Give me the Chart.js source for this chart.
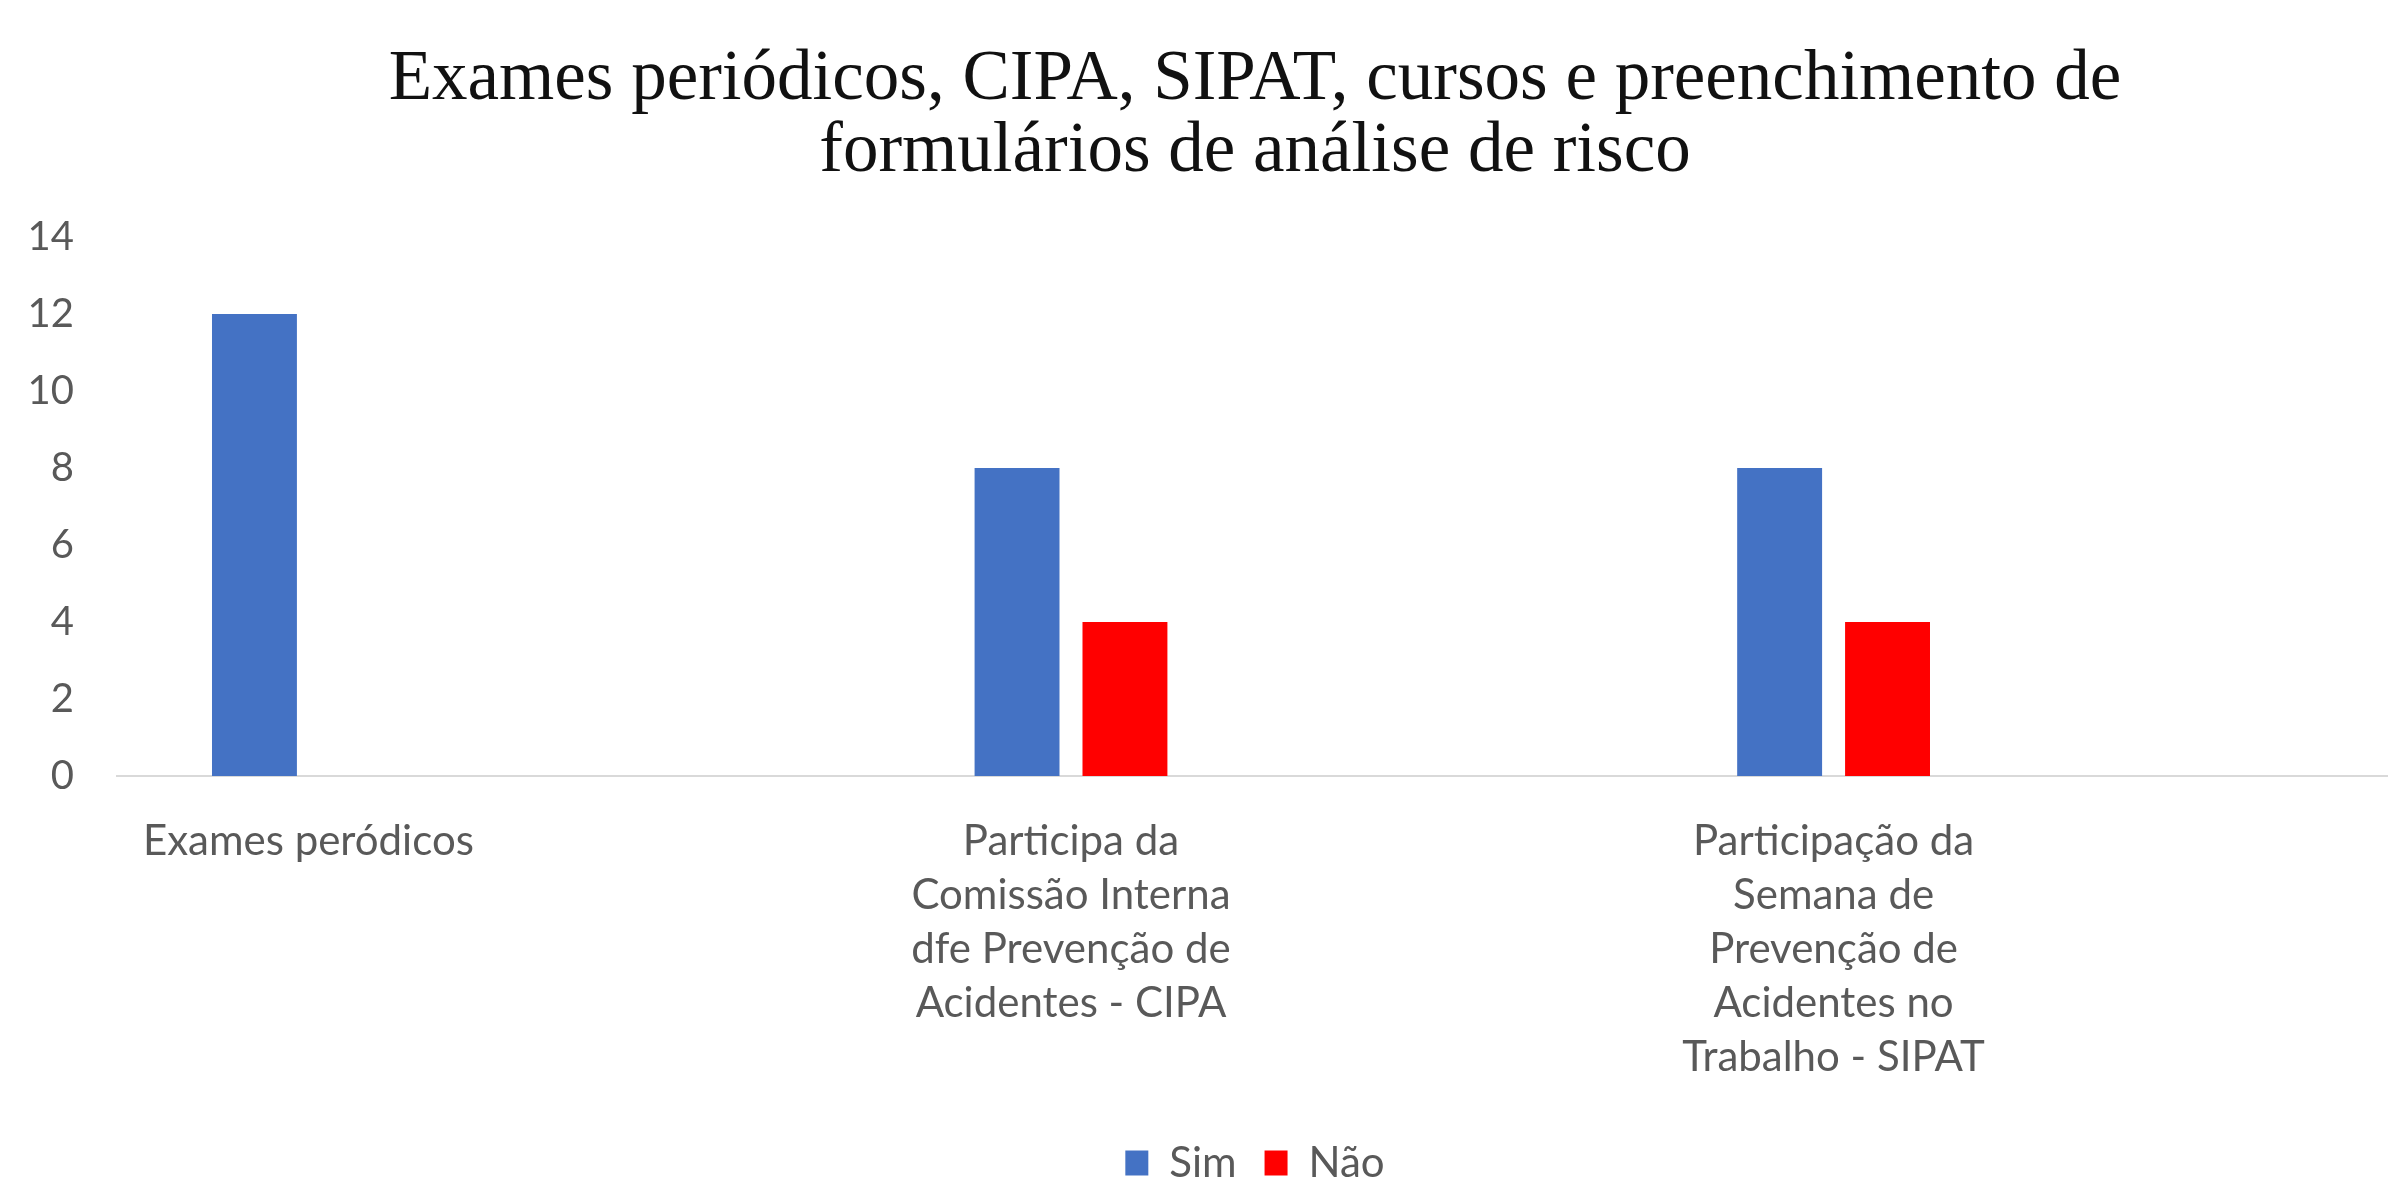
<!DOCTYPE html>
<html>
<head>
<meta charset="utf-8">
<script src="https://cdn.jsdelivr.net/npm/chart.js@4.4.1/dist/chart.umd.min.js"></script>
<style>
    body { margin: 0; background: #fff; overflow: hidden; }
</style>
</head>
<body>
<canvas id="grafico" width="2510" height="1180"></canvas>
<script>
// Dados
var categorias = [
    ["Exames peródicos"],
    ["Participa da", "Comissão Interna", "dfe Prevenção de", "Acidentes - CIPA"],
    ["Participação da", "Semana de", "Prevenção de", "Acidentes no", "Trabalho - SIPAT"]
];
var valoresSim = [12, 8, 8];
var valoresNao = [0, 4, 4];
var ticksY = [0, 2, 4, 6, 8, 10, 12, 14];

var titulo = ["Exames periódicos, CIPA, SIPAT, cursos e preenchimento de",
              "formulários de análise de risco"];

var corTexto = "#595959";
var fonteEixo = "Lato, 'Open Sans', sans-serif";

// barras em eixo linear: posicao = indice da categoria
function pontos(valores) {
    return valores.map((v, i) => ({ x: i, y: v }));
}

var ctx = document.getElementById("grafico").getContext("2d");
var grafico = new Chart(ctx, {
    type: 'bar',
    data: {
        datasets: [{
            label: 'Sim',
            data: pontos(valoresSim),
            backgroundColor: '#4472C4',
            borderWidth: 0,
            categoryPercentage: 0.283,
            barPercentage: 0.787
        }, {
            label: 'Não',
            data: pontos(valoresNao),
            backgroundColor: '#FF0000',
            borderWidth: 0,
            categoryPercentage: 0.283,
            barPercentage: 0.787
        }]
    },
    options: {
        responsive: false,
        animation: false,
        layout: { padding: { top: 0, right: 0, bottom: -14, left: 0 } },
        scales: {
            x: {
                type: 'linear',
                bounds: 'data',
                offset: false,
                min: -0.251,
                max: 2.887,
                grid: { display: false, drawTicks: false },
                border: { display: true, color: '#D9D9D9', width: 2 },
                afterBuildTicks: (scale) => {
                    scale.ticks = categorias.map((c, i) => ({ value: i }));
                },
                afterFit: (scale) => { scale.height = 338; },
                ticks: {
                    stepSize: 1,
                    includeBounds: false,
                    autoSkip: false,
                    maxRotation: 0,
                    minRotation: 0,
                    padding: 38,
                    color: corTexto,
                    font: { family: fonteEixo, size: 42, lineHeight: 1.29 },
                    callback: (v) => categorias[v]
                }
            },
            y: {
                min: 0,
                max: 14,
                grid: { display: false, drawTicks: false },
                border: { display: false },
                afterFit: (scale) => { scale.width = 117; },
                afterBuildTicks: (scale) => {
                    scale.ticks = ticksY.map(v => ({ value: v }));
                },
                ticks: {
                    padding: 43,
                    color: corTexto,
                    font: { family: fonteEixo, size: 40 }
                }
            }
        },
        plugins: {
            title: {
                display: true,
                text: titulo,
                color: '#111',
                padding: { top: 44, bottom: 49 },
                font: { family: "'Liberation Serif', 'Times New Roman', serif", size: 71, weight: 'normal', lineHeight: 1.015 }
            },
            legend: {
                display: true,
                position: 'bottom',
                labels: {
                    color: corTexto,
                    boxWidth: 23,
                    boxHeight: 25,
                    padding: 28,
                    font: { family: fonteEixo, size: 42 }
                }
            },
            tooltip: { enabled: false }
        }
    }
});
</script>
</body>
</html>
